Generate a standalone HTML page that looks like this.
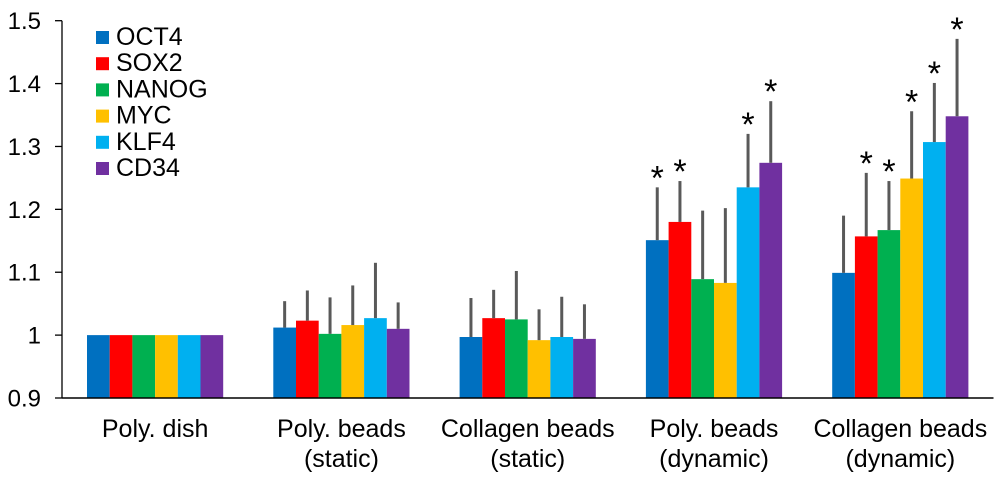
<!DOCTYPE html>
<html><head><meta charset="utf-8"><style>
body{margin:0;background:#fff}
svg{display:block;font-family:"Liberation Sans",Arial,sans-serif}
</style></head><body>
<svg id="c" width="996" height="494"></svg>
<script>
const categories=[["Poly. dish"],["Poly. beads","(static)"],["Collagen beads","(static)"],["Poly. beads","(dynamic)"],["Collagen beads","(dynamic)"]];
const seriesNames=["OCT4","SOX2","NANOG","MYC","KLF4","CD34"];
const colors=["#0070C0","#FF0000","#00B050","#FFC000","#00B0F0","#7030A0"];
const values=[
[1,1.012,0.997,1.151,1.099],
[1,1.023,1.027,1.180,1.157],
[1,1.002,1.025,1.089,1.167],
[1,1.016,0.992,1.083,1.249],
[1,1.027,0.997,1.235,1.307],
[1,1.010,0.994,1.274,1.348]];
const errTops=[
[null,1.054,1.059,1.235,1.190],
[null,1.071,1.072,1.245,1.258],
[null,1.060,1.102,1.198,1.245],
[null,1.079,1.041,1.202,1.356],
[null,1.115,1.061,1.320,1.401],
[null,1.052,1.049,1.372,1.471]];
const significant=[
[0,0,0,1,0],[0,0,0,1,1],[0,0,0,0,1],[0,0,0,0,1],[0,0,0,1,1],[0,0,0,1,1]];
const yTicks=[0.9,1,1.1,1.2,1.3,1.4,1.5];
const yTickLabels=["0.9","1","1.1","1.2","1.3","1.4","1.5"];

const NS="http://www.w3.org/2000/svg",svg=document.getElementById('c');
const X0=62,X1=993.5,Y0=398,YT=20.7,ymin=0.9,ymax=1.5;
const y=v=>Y0-(v-ymin)/(ymax-ymin)*(Y0-YT);
const catW=(X1-X0)/categories.length,barW=22.7,off=25;
const bx=(c,s)=>X0+c*catW+off+s*barW;
function mk(t,a,p){const e=document.createElementNS(NS,t);for(const k in a)e.setAttribute(k,a[k]);(p||svg).appendChild(e);return e;}

yTicks.forEach((v,i)=>{
 const t=mk('line',{x1:X0-7,x2:X0,y1:y(v),y2:y(v),stroke:'#000','stroke-width':1.3});
 
 
 const l=mk('text',{x:41,y:y(v)+8.5,'text-anchor':'end','font-size':24});
 l.textContent=yTickLabels[i];
 
 
});
for(let s=0;s<seriesNames.length;s++){
 for(let c=0;c<categories.length;c++){
  const v=values[s][c];
  const r=mk('rect',{x:bx(c,s),y:y(v),width:barW,height:Y0-y(v),fill:colors[s]});
  
  
  const et=errTops[s][c];
  if(et!==null){
   const e=mk('line',{x1:bx(c,s)+barW/2,x2:bx(c,s)+barW/2,y1:y(v),y2:y(et),stroke:'#595959','stroke-width':3});
   
   
  }
  if(significant[s][c]){
   const st=mk('text',{x:bx(c,s)+barW/2,y:y(et)+2,'text-anchor':'middle','font-size':34});
   st.textContent='*';
   
   
  }
 }
}
const ax=mk('line',{x1:X0,x2:X0,y1:YT,y2:Y0,stroke:'#000','stroke-width':1.3});


const xa=mk('line',{x1:X0,x2:X1,y1:Y0,y2:Y0,stroke:'#000','stroke-width':1.5});


categories.forEach((lines,c)=>{
 lines.forEach((ln,k)=>{
  const t=mk('text',{x:X0+c*catW+catW/2,y:437+k*30,'text-anchor':'middle','font-size':25});
  t.textContent=ln;
  
  
 });
});
seriesNames.forEach((n,s)=>{
 const g=mk('g',{});
 
 
 mk('rect',{x:96,y:31+s*26.2,width:13,height:13,fill:colors[s]},g);
 const t=mk('text',{x:116,y:45+s*26.2,'font-size':25},g);
 t.textContent=n;
});
</script>
</body></html>
